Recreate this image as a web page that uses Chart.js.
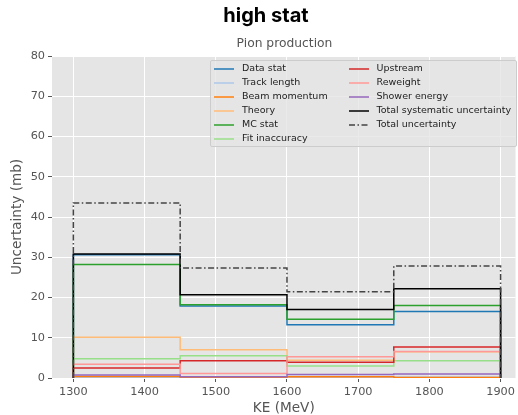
<!DOCTYPE html>
<html>
<head>
<meta charset="utf-8">
<script src="https://cdn.jsdelivr.net/npm/chart.js@4.4.1/dist/chart.umd.min.js"></script>
<style>
  html, body { margin: 0; padding: 0; background: #fff; }
  #wrap { position: relative; width: 518px; height: 415px; overflow: hidden; }
  #suptitle { position: absolute; left: 0; width: 532px; top: 3px; text-align: center;
    font: 700 20px Inter, "DejaVu Sans", sans-serif; color: #000; }
  #subtitle { position: absolute; left: 52px; width: 465px; top: 36px; text-align: center;
    font: 12.3px "DejaVu Sans", sans-serif; color: #555; }
  #legend { position: absolute; left: 210px; top: 60px; width: 305px; height: 85px;
    background: rgba(229,229,229,0.8); border: 1px solid #cccccc; border-radius: 2px; }
  .item { position: absolute; height: 14px; line-height: 14px; white-space: nowrap;
    font: 9.5px "DejaVu Sans", sans-serif; color: #222; }
  .item svg { position: absolute; left: 0; top: 0; }
  .item span { position: absolute; left: 28px; top: 0; }
</style>
</head>
<body>
<div id="wrap">
  <canvas id="chart" width="518" height="415"></canvas>
  <div id="suptitle">high stat</div>
  <div id="subtitle">Pion production</div>
  <div id="legend"></div>
</div>
<script>
// bin edges (MeV) and per-bin uncertainties (mb)
const binEdges = [1300, 1450, 1600, 1750, 1900];
const xTicks = [1300, 1400, 1500, 1600, 1700, 1800, 1900];
const yTicks = [0, 10, 20, 30, 40, 50, 60, 70, 80];

const labels = ['Data stat', 'Track length', 'Beam momentum', 'Theory', 'MC stat', 'Fit inaccuracy',
    'Upstream', 'Reweight', 'Shower energy', 'Total systematic uncertainty', 'Total uncertainty'];

const dataStat = [30.6, 17.9, 13.2, 16.5];
const trackLength = [0.2, 0.2, 0.2, 0.25];
const beamMomentum = [0.4, 0.15, 0.3, 0.1];
const theory = [10.1, 7.0, 4.4, 6.5];
const mcStat = [28.2, 18.2, 14.6, 18.0];
const fitInaccuracy = [4.8, 5.5, 3.0, 4.3];
const upstream = [2.5, 4.3, 3.9, 7.7];
const reweight = [3.4, 1.1, 5.3, 6.6];
const showerEnergy = [0.75, 0.3, 0.85, 1.0];
const totalSyst = [30.8, 20.7, 17.0, 22.2];
const totalUnc = [43.5, 27.3, 21.4, 27.8];

const series = [dataStat, trackLength, beamMomentum, theory, mcStat, fitInaccuracy,
    upstream, reweight, showerEnergy, totalSyst, totalUnc];
const colors = ['#1f77b4', '#aec7e8', '#ff7f0e', '#ffbb78', '#2ca02c', '#98df8a',
    '#d62728', '#ff9896', '#9467bd', '#000000', '#444444'];

// histogram outline like matplotlib histtype='step'
function stepPoints(vals) {
    const last = binEdges[binEdges.length - 1];
    const pts = [{ x: binEdges[0], y: 0 }];
    for (let i = 0; i < vals.length; i++) {
        pts.push({ x: binEdges[i], y: vals[i] });
    }
    pts.push({ x: last, y: vals[vals.length - 1] });
    pts.push({ x: last, y: 0 });
    return pts;
}

const datasets = series.map((vals, i) => ({
    label: labels[i],
    data: stepPoints(vals),
    borderColor: colors[i],
    borderWidth: 1.5,
    borderDash: i === 10 ? [6, 2.5, 1.5, 2.5] : [],
    stepped: 'before',
    pointRadius: 0,
    fill: false,
    order: series.length - i
}));

const plotBg = {
    id: 'plotBg',
    beforeDraw(chart) {
        const a = chart.chartArea;
        const ctx = chart.ctx;
        ctx.save();
        ctx.fillStyle = '#e5e5e5';
        ctx.fillRect(a.left, a.top, a.right - a.left, a.bottom - a.top);
        ctx.restore();
    }
};

const tickFont = { family: 'DejaVu Sans', size: 11.3 };
const titleFont = { family: 'DejaVu Sans', size: 13.6 };

const chart = new Chart(document.getElementById('chart'), {
    type: 'line',
    data: { datasets: datasets },
    options: {
        responsive: false,
        animation: false,
        layout: { padding: { top: 56, right: 1, left: 0, bottom: 0 } },
        plugins: { legend: { display: false }, tooltip: { enabled: false } },
        scales: {
            x: {
                type: 'linear',
                min: 1270,
                max: 1921,
                afterBuildTicks: s => { s.ticks = xTicks.map(v => ({ value: v })); },
                afterFit: s => { s.height = 37; },
                grid: { color: '#ffffff', lineWidth: 1, tickColor: '#555555', tickLength: 4 },
                border: { display: false },
                ticks: { color: '#555555', font: tickFont, padding: 3, maxRotation: 0, callback: v => String(v) },
                title: { display: true, text: 'KE (MeV)', color: '#555555', font: titleFont, padding: { top: 0, bottom: -2 } }
            },
            y: {
                min: 0,
                max: 80,
                afterBuildTicks: s => { s.ticks = yTicks.map(v => ({ value: v })); },
                afterFit: s => { s.width = 52; },
                grid: { color: '#ffffff', lineWidth: 1, tickColor: '#555555', tickLength: 4 },
                border: { display: false },
                ticks: { color: '#555555', font: tickFont, padding: 3, callback: v => String(v) },
                title: { display: true, text: 'Uncertainty (mb)', color: '#555555', font: titleFont, padding: { top: 9, bottom: 0 } }
            }
        }
    },
    plugins: [plotBg]
});

// legend, two columns filled top to bottom
const legend = document.getElementById('legend');
chart.data.datasets.forEach((ds, i) => {
    const col = i < 6 ? 0 : 1;
    const row = i < 6 ? i : i - 6;
    const item = document.createElement('div');
    item.className = 'item';
    item.style.left = (col === 0 ? 3 : 137.5) + 'px';
    item.style.top = (1.3 + row * 13.9) + 'px';
    const dash = ds.borderDash.length ? ds.borderDash.join(',') : 'none';
    item.innerHTML = `<svg width="22" height="14"><line x1="0" y1="7" x2="20" y2="7" stroke="${ds.borderColor}" stroke-width="1.5" stroke-dasharray="${dash}"/></svg><span>${ds.label}</span>`;
    legend.appendChild(item);
});
</script>
</body>
</html>
